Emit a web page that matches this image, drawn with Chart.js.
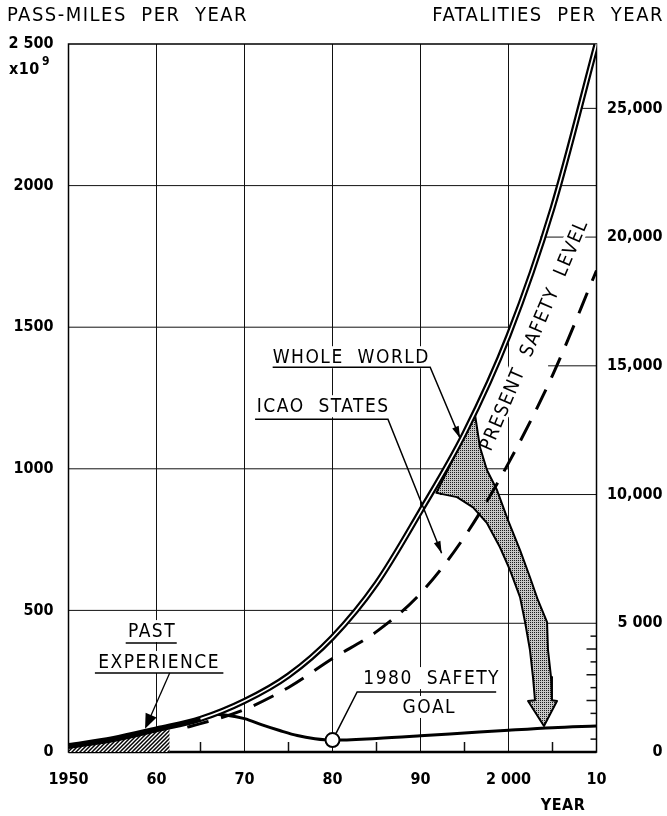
<!DOCTYPE html>
<html>
<head>
<meta charset="utf-8">
<script src="https://cdn.jsdelivr.net/npm/chart.js@4.4.1/dist/chart.umd.min.js"></script>
<style>
  html, body { margin: 0; padding: 0; background: #fff; }
  canvas { display: block; }
</style>
</head>
<body>
<canvas id="chart" width="667" height="816"></canvas>
<script>
// Achsen
const xTickYears = [1950, 1960, 1970, 1980, 1990, 2000, 2010];
const xTickLabels = ['1950', '60', '70', '80', '90', '2 000', '10'];
const leftTickValues = [0, 500, 1000, 1500, 2000, 2500];
const leftTickLabels = ['0', '500', '1000', '1500', '2000', '2 500'];
const rightTickValues = [0, 5000, 10000, 15000, 20000, 25000];
const rightTickLabels = ['0', '5 000', '10,000', '15,000', '20,000', '25,000'];

// Kurven, Pass-Miles x10^9 (linke Achse)
const worldYears = [1950, 1955, 1960, 1965, 1970, 1975, 1980, 1985, 1990, 1995, 2000, 2005, 2010];
const worldValues = [21, 45, 80, 117, 180, 270, 405, 595, 850, 1125, 1470, 1920, 2500];

const icaoYears = [1963.5, 1965, 1970, 1975, 1980, 1985, 1990, 1995, 2000, 2005, 2010];
const icaoValues = [88, 100, 150, 228, 330, 425, 560, 760, 1020, 1330, 1700];

const goalYears = [1966.5, 1968, 1970, 1972, 1974, 1976, 1978, 1980, 1985, 1990, 1995, 2000, 2005, 2010];
const goalValues = [133, 130, 118, 96, 76, 58, 47, 42, 48, 57, 67, 77, 86, 92];

const pastYears = [1950, 1955, 1960, 1961.5];
const pastValues = [21, 45, 80, 88];

// schattierter Pfeil (Umriss)
const arrowYears = [1996.2, 1996.76, 1997.56, 1998.69, 1999.94, 2001.31, 2002.44, 2003.35, 2004.38, 2004.49, 2004.83, 2004.94,
  2005.51, 2004.03, 2002.22, 2003.01, 2002.78, 2002.44, 2001.88, 2001.31, 2000.17, 1999.03, 1997.56, 1995.97, 1994.15, 1991.8, 1996.2];
const arrowValues = [1190, 1076, 995, 925, 819, 713, 617, 536, 459, 360, 265, 183,
  180, 92, 180, 183, 265, 360, 459, 547, 642, 723, 808, 864, 900, 915, 1190];

// Teil-Gitterlinien [Wert, von, bis]
const leftGridLines = [[500, 1950, 1988.5], [1000, 1950, 2000], [1500, 1950, 2000], [2000, 1950, 2010]];
const rightGridLines = [[5000, 1981.5, 2010], [10000, 1992.2, 2010], [15000, 2004.5, 2010], [20000, 2003.6, 2010], [25000, 2008.3, 2010]];
const minorYears = [1955, 1965, 1975, 1985, 1995, 2005];
const minorFatalities = [500, 1000, 1500, 2000, 2500, 3000, 3500, 4000, 4500];

const FONT = '"DejaVu Sans Condensed", "DejaVu Sans", sans-serif';

function toPoints(xs, ys) {
  return xs.map((x, i) => ({ x: x, y: ys[i] }));
}

const canvas = document.getElementById('chart');
const ctx0 = canvas.getContext('2d');

function makeHatch() {
  const c = document.createElement('canvas');
  c.width = 4; c.height = 4;
  const g = c.getContext('2d');
  g.fillStyle = '#fff'; g.fillRect(0, 0, 4, 4);
  g.strokeStyle = '#000'; g.lineWidth = 1.5;
  g.beginPath();
  g.moveTo(-1, 5); g.lineTo(5, -1);
  g.moveTo(-1, 1); g.lineTo(1, -1);
  g.moveTo(3, 5); g.lineTo(5, 3);
  g.stroke();
  return ctx0.createPattern(c, 'repeat');
}

// Punktraster
function makeStipple() {
  const c = document.createElement('canvas');
  c.width = 2; c.height = 2;
  const g = c.getContext('2d');
  g.fillStyle = '#c6c6c6'; g.fillRect(0, 0, 2, 2);
  g.fillStyle = '#1e1e1e';
  g.fillRect(0, 0, 1, 1);
  return ctx0.createPattern(c, 'repeat');
}

function setFont(ctx, size, bold) {
  ctx.font = (bold ? 'bold ' : '') + size + 'px ' + FONT;
}

// Text mit weissem Hintergrund (unterbricht das Gitter)
function boxText(ctx, text, x, y, align) {
  setFont(ctx, 19, false);
  ctx.letterSpacing = '1.5px';
  ctx.textAlign = align;
  ctx.textBaseline = 'middle';
  const w = ctx.measureText(text).width;
  const left = align === 'left' ? x : (align === 'right' ? x - w : x - w / 2);
  ctx.fillStyle = '#fff';
  ctx.fillRect(left - 4, y - 11, w + 8, 22);
  ctx.fillStyle = '#000';
  ctx.fillText(text, x, y + 1);
  ctx.letterSpacing = '0px';
}

function polyline(ctx, pts, width) {
  ctx.lineWidth = width;
  ctx.beginPath();
  pts.forEach((p, i) => i ? ctx.lineTo(p[0], p[1]) : ctx.moveTo(p[0], p[1]));
  ctx.stroke();
}

function arrowHead(ctx, from, to, len, half) {
  const a = Math.atan2(to[1] - from[1], to[0] - from[0]);
  ctx.beginPath();
  ctx.moveTo(to[0], to[1]);
  ctx.lineTo(to[0] - len * Math.cos(a) + half * Math.sin(a), to[1] - len * Math.sin(a) - half * Math.cos(a));
  ctx.lineTo(to[0] - len * Math.cos(a) - half * Math.sin(a), to[1] - len * Math.sin(a) + half * Math.cos(a));
  ctx.closePath();
  ctx.fill();
}

const annotations = {
  id: 'annotations',
  beforeDatasetsDraw(chart) {
    const { ctx, chartArea: a, scales } = chart;
    const X = v => scales.x.getPixelForValue(v);
    const Y = v => scales.y.getPixelForValue(v);
    const Y1 = v => scales.y1.getPixelForValue(v);
    ctx.save();
    ctx.strokeStyle = '#111';
    ctx.lineWidth = 1;
    leftGridLines.forEach(([v, from, to]) => {
      ctx.beginPath(); ctx.moveTo(X(from), Y(v)); ctx.lineTo(X(to), Y(v)); ctx.stroke();
    });
    rightGridLines.forEach(([v, from, to]) => {
      ctx.beginPath(); ctx.moveTo(X(from), Y1(v)); ctx.lineTo(X(to), Y1(v)); ctx.stroke();
    });
    // kleine Striche
    ctx.lineWidth = 1.5;
    minorYears.forEach(yr => {
      ctx.beginPath(); ctx.moveTo(X(yr), a.bottom); ctx.lineTo(X(yr), a.bottom - 10); ctx.stroke();
    });
    minorFatalities.forEach(v => {
      const len = v % 1000 === 0 ? 10 : 6;
      ctx.beginPath(); ctx.moveTo(a.right, Y1(v)); ctx.lineTo(a.right - len, Y1(v)); ctx.stroke();
    });
    // Rahmen
    ctx.strokeStyle = '#000';
    ctx.lineWidth = 1.5;
    ctx.strokeRect(a.left, a.top, a.right - a.left, a.bottom - a.top);
    ctx.lineWidth = 2.5;
    ctx.beginPath(); ctx.moveTo(a.left, a.bottom); ctx.lineTo(a.right, a.bottom); ctx.stroke();

    // Beschriftungen im Diagramm
    boxText(ctx, 'WHOLE  WORLD', X(1973.2), Y(1394), 'left');
    boxText(ctx, 'ICAO  STATES', X(1971.4), Y(1221), 'left');
    boxText(ctx, 'PAST', X(1959.5), Y(427), 'center');
    boxText(ctx, 'EXPERIENCE', X(1960.3), Y(318), 'center');
    boxText(ctx, '1980  SAFETY', X(1983.5), Y(261), 'left');
    boxText(ctx, 'GOAL', X(1991.0), Y(159), 'center');

    // schraeger Text
    ctx.save();
    ctx.translate(X(2003.0), Y(1471));
    ctx.rotate(-67 * Math.PI / 180);
    setFont(ctx, 19, false);
    ctx.letterSpacing = '1.5px';
    ctx.textAlign = 'center';
    ctx.textBaseline = 'middle';
    ctx.strokeStyle = '#fff';
    ctx.lineWidth = 6;
    ctx.strokeText('PRESENT  SAFETY  LEVEL', 0, 0);
    ctx.fillStyle = '#000';
    ctx.fillText('PRESENT  SAFETY  LEVEL', 0, 0);
    ctx.restore();
    ctx.restore();
  },
  afterDatasetsDraw(chart) {
    const { ctx, scales } = chart;
    const P = (yr, v) => [scales.x.getPixelForValue(yr), scales.y.getPixelForValue(v)];
    ctx.save();
    ctx.strokeStyle = '#000';
    ctx.fillStyle = '#000';
    // Unterstreichungen und Hinweislinien
    polyline(ctx, [P(1973.2, 1359), P(1991.1, 1359), P(1994.5, 1108)], 1.5);
    arrowHead(ctx, P(1991.1, 1359), P(1994.5, 1108), 12, 3.5);
    polyline(ctx, [P(1971.2, 1175), P(1986.3, 1175), P(1992.4, 702)], 1.5);
    arrowHead(ctx, P(1986.3, 1175), P(1992.4, 702), 12, 3.5);
    polyline(ctx, [P(1956.5, 385), P(1962.3, 385)], 1.5);
    polyline(ctx, [P(1953.0, 279), P(1967.6, 279)], 1.5);
    polyline(ctx, [P(1961.5, 279), P(1958.9, 95)], 1.3);
    arrowHead(ctx, P(1961.5, 279), P(1958.7, 82), 15, 6);
    polyline(ctx, [P(1998.6, 212), P(1982.8, 212), P(1980.4, 66)], 1.5);
    ctx.restore();
  },
  afterDraw(chart) {
    const { ctx } = chart;
    ctx.save();
    ctx.fillStyle = '#000';
    ctx.textBaseline = 'middle';
    setFont(ctx, 20, false);
    ctx.letterSpacing = '1.5px';
    ctx.textAlign = 'left';
    ctx.fillText('PASS-MILES  PER  YEAR', 7, 16);
    ctx.textAlign = 'right';
    ctx.fillText('FATALITIES  PER  YEAR', 664, 16);
    ctx.letterSpacing = '0.5px';
    setFont(ctx, 16, true);
    ctx.textAlign = 'center';
    ctx.fillText('YEAR', 563, 806);
    ctx.textAlign = 'left';
    ctx.fillText('x10', 9, 70);
    setFont(ctx, 12, true);
    ctx.fillText('9', 42, 62);
    ctx.restore();
  }
};

const tickFont = { family: FONT, size: 16, weight: 'bold' };

const chart = new Chart(canvas, {
  type: 'line',
  data: {
    datasets: [
      {
        // Doppellinie: weisser Kern
        data: toPoints(worldYears, worldValues),
        borderColor: '#fff',
        borderWidth: 1.6,
        order: 0,
        segment: { borderColor: c => c.p0.parsed.x < 1962 ? 'rgba(255,255,255,0)' : '#fff' }
      },
      {
        data: toPoints(worldYears, worldValues),
        borderColor: '#000',
        borderWidth: 6,
        order: 1
      },
      {
        data: toPoints(goalYears, goalValues),
        borderColor: '#000',
        borderWidth: 3,
        order: 2,
        pointRadius: c => goalYears[c.dataIndex] === 1980 ? 7 : 0,
        pointBackgroundColor: '#fff',
        pointBorderColor: '#000',
        pointBorderWidth: 2
      },
      {
        data: toPoints(icaoYears, icaoValues),
        borderColor: '#000',
        borderWidth: 3,
        borderDash: [22, 13],
        order: 3
      },
      {
        data: toPoints(arrowYears, arrowValues),
        borderColor: '#000',
        borderWidth: 2,
        backgroundColor: makeStipple(),
        fill: 'shape',
        tension: 0,
        cubicInterpolationMode: 'default',
        order: 4
      },
      {
        data: toPoints(pastYears, pastValues),
        borderWidth: 0,
        backgroundColor: makeHatch(),
        fill: 'origin',
        order: 5
      }
    ]
  },
  options: {
    responsive: false,
    animation: false,
    devicePixelRatio: 1,
    layout: { padding: { top: 44, left: 0, right: 4.5, bottom: 0 } },
    elements: {
      point: { radius: 0 },
      line: { tension: 0.4, cubicInterpolationMode: 'monotone', borderCapStyle: 'butt', borderJoinStyle: 'round', fill: false }
    },
    plugins: { legend: { display: false }, tooltip: { enabled: false } },
    scales: {
      x: {
        type: 'linear',
        min: 1950,
        max: 2010,
        afterBuildTicks: s => { s.ticks = xTickYears.map(v => ({ value: v })); },
        afterFit: s => { s.height = 64; },
        ticks: {
          callback: v => xTickLabels[xTickYears.indexOf(v)],
          font: tickFont,
          color: '#000',
          padding: 18,
          maxRotation: 0,
          autoSkip: false
        },
        grid: { color: '#111', lineWidth: 1, drawTicks: false },
        border: { display: false }
      },
      y: {
        position: 'left',
        min: 0,
        max: 2500,
        afterBuildTicks: s => { s.ticks = leftTickValues.map(v => ({ value: v })); },
        afterFit: s => { s.width = 68.5; },
        ticks: {
          callback: v => leftTickLabels[leftTickValues.indexOf(v)],
          font: tickFont,
          color: '#000',
          padding: 15
        },
        grid: { display: false, drawTicks: false },
        border: { display: false }
      },
      y1: {
        position: 'right',
        min: 0,
        max: 27500,
        afterBuildTicks: s => { s.ticks = rightTickValues.map(v => ({ value: v })); },
        afterFit: s => { s.width = 66; },
        ticks: {
          callback: v => rightTickLabels[rightTickValues.indexOf(v)],
          font: tickFont,
          color: '#000',
          padding: 4,
          crossAlign: 'far'
        },
        grid: { display: false, drawTicks: false },
        border: { display: false }
      }
    }
  },
  plugins: [annotations]
});
</script>
</body>
</html>
